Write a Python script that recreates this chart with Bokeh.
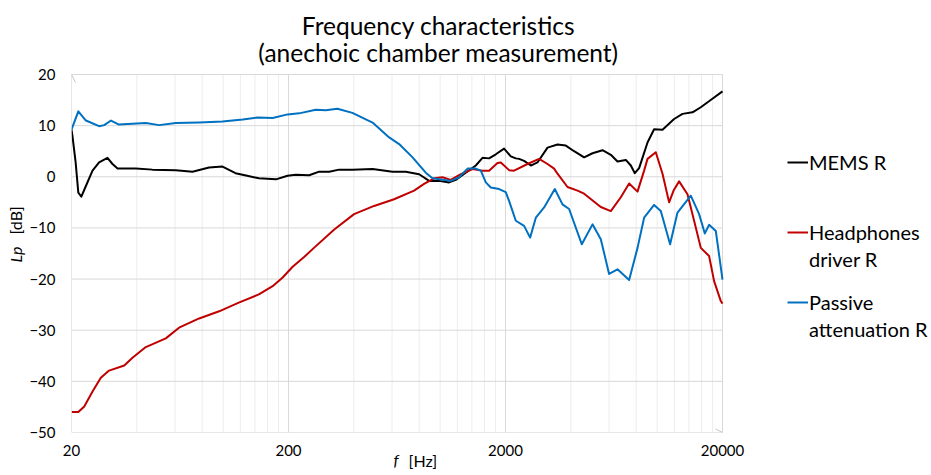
from bokeh.plotting import figure
from bokeh.models import (Range1d, FixedTicker, NumeralTickFormatter, Arrow, OpenHead,
                          Title, Legend, LegendItem, Label)
from bokeh.embed import file_html
from bokeh.resources import INLINE

# ---- data ----
mems_f = [20, 20.2, 20.9, 21.5, 22.2, 23.3, 25.0, 26.8, 29.3, 30.9,
          32.6, 39.6, 47.2, 60.5, 72.2, 86.1, 99.3, 114, 129, 146,
          175, 198, 216, 249, 277, 308, 342, 394, 488, 603,
          694, 800, 889, 989, 1099, 1180, 1312, 1459, 1567, 1680,
          1805, 1970, 2116, 2231, 2310, 2436, 2617, 2808, 3124, 3472,
          3793, 4142, 4606, 5035, 5598, 6115, 6564, 7170, 7561, 7888,
          8256, 9026, 9679, 10581, 11967, 13083, 14550, 15887, 18297, 20000]
mems_db = [9.2, 8.0, 2.8, -3.1, -3.9, -1.8, 1.2, 2.8, 3.7, 2.5,
           1.6, 1.6, 1.4, 1.3, 1.0, 1.8, 2.0, 0.7, 0.2, -0.3,
           -0.5, 0.2, 0.4, 0.3, 1.0, 1.0, 1.4, 1.4, 1.5, 1.0,
           1.0, 0.5, -0.8, -0.8, -1.1, -0.6, 0.8, 2.2, 3.7, 3.6,
           4.4, 5.5, 4.0, 3.6, 3.5, 3.1, 2.2, 2.8, 5.7, 6.3,
           6.1, 5.0, 3.8, 4.6, 5.2, 4.3, 3.0, 3.3, 2.2, 0.7,
           1.7, 6.7, 9.3, 9.2, 11.3, 12.3, 12.6, 13.6, 15.5, 16.7]

driver_f = [20, 21.5, 22.9, 25.0, 27.3, 29.8, 35.0, 38.2, 44.0, 54.4,
            62.6, 77.5, 95.8, 118, 146, 169, 188, 209, 236, 262,
            325, 401, 496, 613, 758, 843, 938, 1025, 1119, 1245,
            1409, 1567, 1680, 1837, 1903, 2077, 2190, 2526, 2856, 3124,
            3350, 3472, 3862, 4295, 4606, 5498, 6115, 6799, 7426, 8117,
            8706, 9026, 9854, 10581, 11350, 11900, 12619, 13796, 14798, 15887,
            17348, 18297, 19644, 20000]
driver_db = [-46.0, -46.0, -44.9, -42.0, -39.3, -37.9, -36.9, -35.4, -33.3, -31.6,
             -29.5, -27.7, -26.3, -24.6, -23.0, -21.4, -19.7, -17.6, -15.7, -13.9,
             -10.3, -7.3, -5.7, -4.4, -2.7, -1.4, -0.3, -0.1, -0.6, 0.5,
             1.5, 1.2, 1.2, 2.7, 2.8, 1.3, 1.2, 2.5, 3.5, 2.5,
             1.6, 0.6, -2.0, -2.7, -3.3, -5.9, -6.7, -4.0, -1.3, -2.9,
             1.2, 3.5, 4.8, 0.6, -5.0, -2.7, -0.9, -3.4, -8.6, -13.9,
             -15.5, -20.4, -24.3, -24.8]

passive_f = [20, 20.2, 21.5, 23.3, 26.8, 28.3, 30.4, 33.1, 44.0, 50.7,
             60.5, 77.5, 99.3, 123, 144, 169, 198, 224, 267, 297,
             336, 394, 488, 582, 647, 746, 858, 922, 1025, 1119,
             1222, 1337, 1459, 1539, 1623, 1711, 1869, 2006, 2077, 2231,
             2436, 2597, 2759, 3013, 3375, 3662, 3928, 4495, 5035, 5498,
             6004, 6564, 7426, 8117, 8706, 9679, 10392, 11470, 12406, 14288,
             15606, 16574, 17348, 18628, 20000]
passive_db = [9.2, 9.7, 12.8, 11.0, 9.9, 10.1, 11.0, 10.2, 10.5, 10.1,
              10.5, 10.6, 10.8, 11.2, 11.6, 11.5, 12.2, 12.4, 13.1, 13.0,
              13.3, 12.5, 10.6, 7.7, 6.4, 3.8, 0.8, -0.3, -0.6, -0.8,
              -0.1, 1.6, 1.6, 1.2, -1.1, -2.1, -2.4, -3.0, -4.7, -8.6,
              -9.6, -11.9, -8.0, -6.0, -2.4, -5.4, -6.3, -13.2, -9.3, -12.2,
              -19.0, -18.1, -20.2, -13.9, -8.0, -5.5, -6.7, -13.2, -7.0, -3.7,
              -7.3, -11.1, -9.4, -10.6, -20.1]

series_first_line = ["MEMS R", "Headphones", "Passive"]
series_second_line = ["driver R", "attenuation R"]
series_colors = ["#000000", "#C00000", "#0070C0"]

x_ticks = [20, 200, 2000, 20000]
x_minor = [m * d for d in (20, 200, 2000) for m in range(2, 10)]
y_ticks = [-50, -40, -30, -20, -10, 0, 10, 20]
X_MIN, X_MAX = 20, 20000
Y_MIN, Y_MAX = -50, 20

# ---- layout (pixels) ----
W, H = 931, 475
AX_L, AX_R, AX_T, AX_B = 71, 722, 74, 432   # plot area of the chart
DEC_PX = (AX_R - AX_L) / 3.0


def fx(px):
    return X_MIN * 10 ** ((px - AX_L) / DEC_PX)


def fy(py):
    return Y_MIN + (AX_B - py) * (Y_MAX - Y_MIN) / (AX_B - AX_T)


FONT = "Lato"

# the frame spans the plot area plus the title and legend regions
p = figure(width=W, height=H, x_axis_type="log", title=None,
           x_range=Range1d(X_MIN, fx(W)), y_range=Range1d(Y_MIN, fy(0)),
           output_backend="svg", toolbar_location=None,
           min_border_left=AX_L, min_border_right=0,
           min_border_top=0, min_border_bottom=H - AX_B)
p.outline_line_color = None
p.background_fill_color = "white"
p.xgrid.visible = False
p.ygrid.visible = False

# axes (tick labels only; axis lines are drawn as arrows below)
p.xaxis.ticker = FixedTicker(ticks=x_ticks, minor_ticks=[])
p.xaxis.formatter = NumeralTickFormatter(format="0")
p.yaxis.ticker = FixedTicker(ticks=y_ticks, minor_ticks=[])
for ax in (p.xaxis, p.yaxis):
    ax.axis_line_color = None
    ax.major_tick_line_color = None
    ax.minor_tick_line_color = None
    ax.major_tick_out = 0
    ax.major_tick_in = 0
    ax.major_label_text_font = FONT
    ax.major_label_text_font_size = "15px"
    ax.major_label_text_color = "#000000"
p.yaxis.major_label_standoff = 16
p.xaxis.major_label_standoff = 12

# grid lines limited to the plot area
p.segment(x0=x_minor, y0=[Y_MIN] * len(x_minor), x1=x_minor, y1=[Y_MAX] * len(x_minor),
          line_color="#ededed", line_width=1)
p.segment(x0=x_ticks[1:], y0=[Y_MIN] * 3, x1=x_ticks[1:], y1=[Y_MAX] * 3,
          line_color="#d9d9d9", line_width=1)
p.segment(x0=[X_MIN] * 7, y0=y_ticks[1:], x1=[X_MAX] * 7, y1=y_ticks[1:],
          line_color="#d9d9d9", line_width=1)

# axis lines with arrow heads
p.add_layout(Arrow(end=OpenHead(size=8, line_color="#c8c8c8", line_width=1),
                   x_start=X_MIN, y_start=Y_MIN, x_end=X_MIN, y_end=Y_MAX,
                   line_color="#d0d0d0", line_width=1))
p.add_layout(Arrow(end=OpenHead(size=7, line_color="#c8c8c8", line_width=1),
                   x_start=X_MIN, y_start=Y_MIN, x_end=X_MAX, y_end=Y_MIN,
                   line_color="#d0d0d0", line_width=1))

# series (blue drawn last, on top)
r_mems = p.line(mems_f, mems_db, line_color=series_colors[0], line_width=2, line_join="round")
r_drv = p.line(driver_f, driver_db, line_color=series_colors[1], line_width=2, line_join="round")
r_pas = p.line(passive_f, passive_db, line_color=series_colors[2], line_width=2, line_join="round")
r_blank = p.line([], [], line_alpha=0)

# chart title (two centred lines)
p.add_layout(Label(x=fx(438), y=fy(25), text="Frequency characteristics",
                   text_font=FONT, text_font_size="24.5px", text_align="center",
                   text_baseline="alphabetic", text_color="#000000"))
p.add_layout(Label(x=fx(438), y=fy(52), text="(anechoic chamber measurement)",
                   text_font=FONT, text_font_size="24.5px", text_align="center",
                   text_baseline="alphabetic", text_color="#000000"))

# axis titles: italic quantity symbol + unit, two titles sharing one row/column
p.add_layout(Title(text="[dB]", text_font=FONT, text_font_size="16px",
                   text_font_style="normal", align="left", offset=AX_B - 234,
                   standoff=4, text_color="#000000"), "left")
p.add_layout(Title(text="Lp", text_font=FONT, text_font_size="16px",
                   text_font_style="italic", align="left", offset=AX_B - 262,
                   standoff=-47, text_color="#000000"), "left")
p.add_layout(Title(text="f", text_font=FONT, text_font_size="16px",
                   text_font_style="italic", align="left", offset=393 - AX_L,
                   standoff=-21, text_color="#000000"), "below")
p.add_layout(Title(text="[Hz]", text_font=FONT, text_font_size="16px",
                   text_font_style="normal", align="left", offset=408 - AX_L,
                   standoff=-22, text_color="#000000"), "below")

# legend: first lines with glyphs, second lines aligned under them
common = dict(orientation="vertical", label_text_font=FONT, label_text_font_size="20px",
              label_text_color="#000000", glyph_width=21, glyph_height=24,
              label_height=24, label_standoff=1, spacing=46, padding=0, margin=0,
              border_line_color=None, background_fill_alpha=0)
leg1 = Legend(items=[LegendItem(label=t, renderers=[r])
                     for t, r in zip(series_first_line, [r_mems, r_drv, r_pas])],
              location=(787 - AX_L, AX_B - 150 - 164), **common)
leg2 = Legend(items=[LegendItem(label=t, renderers=[r_blank]) for t in series_second_line],
              location=(787 - AX_L, AX_B - 246.5 - 94), **common)
p.add_layout(leg1)
p.add_layout(leg2)

open("out.html", "w").write(file_html(p, INLINE))
